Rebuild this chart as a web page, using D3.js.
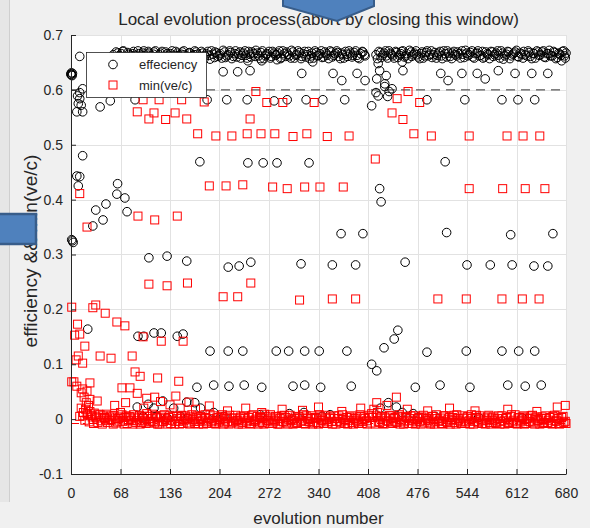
<!DOCTYPE html>
<html>
<head>
<meta charset="utf-8">
<script src="https://cdn.jsdelivr.net/npm/d3@7"></script>
<style>
  body { margin: 0; background: #f0f0f0; }
  svg { display: block; font-family: "Liberation Sans", Arial, sans-serif; }
</style>
</head>
<body>
<script>
// tick labels
const xTicks = [0, 68, 136, 204, 272, 340, 408, 476, 544, 612, 680];
const yTicks = [-0.1, 0, 0.1, 0.2, 0.3, 0.4, 0.5, 0.6, 0.7];
const legendLabels = ["effeciency", "min(ve/c)"];

// efficiency: the dense band near 0.66
const effBand = [
  [58,.664],[62,.669],[65,.660],[69,.666],[72,.671],[76,.658],[79,.665],[83,.662],[86,.670],[90,.657],
  [93,.666],[97,.663],[100,.671],[104,.659],[107,.667],[111,.662],[114,.669],[118,.656],[121,.664],[125,.670],
  [128,.661],[132,.666],[135,.658],[139,.671],[142,.663],[146,.667],[149,.660],[153,.669],[156,.664],[160,.657],
  [163,.668],[167,.662],[170,.671],[174,.665],[177,.659],[181,.667],[184,.662],[188,.670],[191,.656],[195,.665],
  [198,.669],[202,.661],[205,.666],[209,.672],[212,.659],[216,.664],[219,.668],[223,.661],[226,.671],[230,.665],
  [233,.658],[237,.667],[240,.663],[244,.670],[247,.660],[251,.666],[254,.672],[258,.662],[261,.668],[265,.657],
  [268,.665],[272,.670],[275,.661],[279,.667],[282,.664],[286,.671],[289,.659],[293,.666],[296,.669],[300,.662],
  [303,.672],[307,.658],[310,.665],[314,.668],[317,.661],[321,.670],[324,.664],[328,.657],[331,.667],[335,.671],
  [338,.662],[342,.666],[345,.659],[349,.669],[352,.663],[356,.671],[359,.660],[363,.666],[366,.668],[370,.657],
  [373,.664],[377,.670],[380,.661],[384,.667],[387,.663],[391,.671],[394,.659],[398,.666],[401,.669],[404,.662],
  [419,.664],[423,.670],[426,.659],[430,.667],[433,.662],[437,.671],[440,.665],[444,.658],[447,.668],[451,.663],
  [454,.670],[458,.660],[461,.666],[465,.672],[468,.661],[472,.667],[475,.664],[479,.657],[482,.669],[486,.662],
  [489,.671],[493,.665],[496,.659],[500,.668],[503,.663],[507,.670],[510,.657],[514,.666],[517,.671],[521,.661],
  [524,.667],[528,.664],[531,.669],[535,.658],[538,.665],[542,.672],[545,.662],[549,.668],[552,.660],[556,.666],
  [559,.671],[563,.663],[566,.658],[570,.669],[573,.664],[577,.670],[580,.661],[584,.667],[587,.663],[591,.671],
  [594,.656],[598,.665],[601,.669],[605,.662],[608,.667],[612,.672],[615,.660],[619,.665],[622,.670],[626,.662],
  [629,.668],[633,.657],[636,.666],[640,.671],[643,.663],[647,.669],[650,.660],[654,.666],[657,.672],[661,.662],
  [664,.668],[668,.659],[671,.665],[675,.670],[678,.662],[680,.667]
];
const effBandB = [
  [60,.658],[64,.667],[67,.662],[71,.670],[74,.660],[78,.668],[81,.657],[85,.666],[88,.663],[92,.671],
  [95,.659],[99,.667],[102,.662],[106,.670],[109,.657],[113,.665],[116,.671],[120,.661],[123,.667],[127,.658],
  [130,.669],[134,.663],[137,.666],[141,.657],[144,.670],[148,.662],[151,.665],[155,.671],[158,.660],[162,.667],
  [165,.658],[169,.664],[172,.669],[176,.661],[179,.670],[183,.657],[186,.666],[190,.663],[193,.671],[197,.659],
  [200,.667],[204,.663],[207,.658],[211,.669],[214,.662],[218,.671],[221,.657],[225,.666],[228,.660],[232,.669],
  [235,.663],[239,.671],[242,.658],[246,.665],[249,.669],[253,.661],[256,.667],[260,.657],[263,.671],[267,.662],
  [270,.666],[274,.658],[277,.670],[281,.663],[284,.667],[288,.657],[291,.671],[295,.661],[298,.665],[302,.658],
  [305,.669],[309,.663],[312,.671],[316,.657],[319,.666],[323,.660],[326,.670],[330,.662],[333,.658],[337,.668],
  [340,.663],[344,.671],[347,.660],[351,.666],[354,.657],[358,.669],[361,.663],[365,.671],[368,.661],[372,.667],
  [375,.658],[379,.665],[382,.671],[386,.660],[389,.668],[393,.663],[396,.657],[400,.670],[403,.664],
  [421,.657],[425,.668],[428,.663],[432,.671],[435,.658],[439,.667],[442,.662],[446,.670],[449,.659],[453,.666],
  [456,.671],[460,.662],[463,.657],[467,.669],[470,.664],[474,.671],[477,.660],[481,.666],[484,.658],[488,.668],
  [491,.662],[495,.671],[498,.664],[502,.658],[505,.667],[509,.662],[512,.671],[516,.660],[519,.667],[523,.657],
  [526,.670],[530,.662],[533,.666],[537,.671],[540,.659],[544,.667],[547,.664],[551,.671],[554,.658],[558,.667],
  [561,.662],[565,.670],[568,.660],[572,.666],[575,.657],[579,.669],[582,.664],[586,.671],[589,.658],[593,.667],
  [596,.662],[600,.670],[603,.657],[607,.665],[610,.669],[614,.661],[617,.667],[621,.658],[624,.664],[628,.671],
  [631,.661],[635,.667],[638,.658],[642,.669],[645,.664],[649,.671],[652,.659],[656,.666],[659,.662],[663,.670],
  [666,.657],[670,.667],[673,.663],[677,.671],[679,.658]
];

// efficiency: points away from the band
const effScatter = [
  [0,.629],[1,.627],[2,.630],[0,.628],[0.5,.631],[1.5,.626],[12,.661],
  [9,.589],[12,.584],[8,.56],[16,.56],[12,.595],[16,.602],[10,.575],[14,.572],[40,.569],[54,.58],
  [16,.48],[8,.443],[12,.442],[10,.425],
  [1,.327],[3,.322],[2,.325],
  [30,.352],[34,.381],[44,.363],[48,.392],[64,.429],[63,.41],[74,.403],[77,.378],
  [107,.294],[132,.297],[159,.288],
  [177,.469],[243,.467],[264,.467],[283,.467],[327,.467],[514,.469],
  [216,.277],[231,.279],[247,.286],[316,.283],[359,.281],[391,.281],
  [371,.338],[401,.338],[424,.42],[426,.396],
  [459,.286],[544,.281],[576,.281],[606,.281],[636,.279],[655,.279],
  [516,.34],[604,.336],[662,.338],
  [88,.582],[187,.582],[214,.582],[242,.582],[279,.58],[297,.582],[323,.582],[346,.582],[376,.582],
  [489,.582],[541,.582],[592,.582],[614,.582],[637,.582],
  [413,.571],[419,.595],[437,.597],[422,.589],[435,.588],[441,.602],[431,.606],
  [209,.633],[229,.633],[246,.635],[317,.63],[360,.63],[372,.617],[393,.63],[404,.617],[424,.635],
  [433,.626],[420,.62],[431,.611],[422,.648],[455,.651],[456,.635],[508,.63],[518,.617],[537,.63],
  [558,.63],[569,.62],[587,.635],[610,.63],[633,.63],[655,.63],[674,.653],
  [243,.653],[262,.653],[283,.655],[332,.651],
  [23,.164],[92,.151],[100,.151],[114,.157],[124,.157],[146,.151],[154,.155],[449,.162],[444,.146],[430,.13],
  [191,.124],[216,.124],[236,.124],[282,.124],[299,.124],[321,.124],[341,.124],[379,.124],[489,.122],
  [543,.124],[592,.124],[615,.124],[637,.124],
  [173,.058],[196,.062],[217,.06],[238,.062],[262,.058],[305,.06],[321,.062],[343,.058],[385,.06],
  [473,.058],[507,.062],[548,.058],[600,.062],[624,.06],[646,.062],
  [413,.1],[420,.088],
  [91,.022],[106,.027],[114,.02],[126,.033],[141,.02],[159,.031],[99,.004],[118,.005],[132,.002],[150,.005],
  [170,.03],[178,.02],[196,.012],[210,.005],[260,.008],[300,.01],[320,.012],[345,.005],[356,.008],
  [425,.02],[436,.03],[447,.022],[455,.012],[470,.01],[500,.005],[560,.003],[620,.002]
];

// min(ve/c): the dense band near 0
const minBand = [
  [14,.02],[17,.012],[20,.018],[23,.008],[26,.014],[29,.004],[32,.011],[35,.002],[38,.009],[41,-.003],
  [44,.006],[47,.001],[50,-.006],[53,.004],[56,-.002],[59,.007],[62,-.007],[65,.001],[68,.012],[71,-.004],
  [74,.003],[77,-.008],[80,.005],[83,-.002],[86,.008],[89,-.006],[92,.002],[95,-.009],[98,.004],[101,-.003],
  [104,.010],[107,-.007],[110,.001],[113,-.004],[116,.006],[119,-.009],[122,.002],[125,-.005],[128,.008],[131,-.002],
  [134,.003],[137,-.008],[140,.005],[143,-.004],[146,.001],[149,-.009],[152,.007],[155,-.003],[158,.002],[161,-.007],
  [164,.004],[167,-.001],[170,-.008],[173,.006],[176,-.004],[179,.001],[182,-.009],[185,.003],[188,-.005],[191,.008],
  [194,-.002],[197,-.008],[200,.002],[203,-.005],[206,.005],[209,-.009],[212,.001],[215,-.004],[218,.007],[221,-.007],
  [224,.002],[227,-.003],[230,-.009],[233,.004],[236,-.006],[239,.001],[242,-.002],[245,-.008],[248,.006],[251,-.004],
  [254,.000],[257,-.009],[260,.003],[263,-.006],[266,.009],[269,-.002],[272,-.008],[275,.002],[278,-.005],[281,.005],
  [284,-.009],[287,.001],[290,-.004],[293,.007],[296,-.007],[299,.000],[302,-.003],[305,-.009],[308,.004],[311,-.006],
  [314,.002],[317,-.002],[320,-.008],[323,.006],[326,-.004],[329,.001],[332,-.009],[335,.003],[338,-.006],[341,.008],
  [344,-.002],[347,-.008],[350,.002],[353,-.005],[356,.004],[359,-.009],[362,.001],[365,-.004],[368,.006],[371,-.007],
  [374,.002],[377,-.003],[380,-.009],[383,.004],[386,-.006],[389,.001],[392,-.002],[395,-.008],[398,.005],[401,-.004],
  [404,.001],[407,-.009],[410,.003],[413,.010],[416,.018],[419,.006],[422,-.004],[425,.002],[428,-.008],[431,.004],
  [434,-.003],[437,.007],[440,-.007],[443,.001],[446,-.004],[449,.005],[452,-.009],[455,.002],[458,-.005],[461,.003],
  [464,-.008],[467,.006],[470,-.002],[473,-.009],[476,.001],[479,-.004],[482,.004],[485,-.007],[488,.002],[491,-.003],
  [494,-.009],[497,.005],[500,-.005],[503,.001],[506,-.002],[509,-.008],[512,.006],[515,-.004],[518,.000],[521,-.009],
  [524,.003],[527,-.006],[530,.008],[533,-.002],[536,-.008],[539,.002],[542,-.005],[545,.005],[548,-.009],[551,.001],
  [554,-.004],[557,.007],[560,-.007],[563,.000],[566,-.003],[569,-.009],[572,.004],[575,-.006],[578,.002],[581,-.002],
  [584,-.008],[587,.006],[590,-.004],[593,.001],[596,-.009],[599,.003],[602,-.006],[605,.008],[608,-.002],[611,-.008],
  [614,.002],[617,-.005],[620,.004],[623,-.009],[626,.001],[629,-.004],[632,.006],[635,-.007],[638,.002],[641,-.003],
  [644,-.009],[647,.004],[650,-.006],[653,.001],[656,-.002],[659,-.008],[662,.005],[665,-.004],[668,.001],[671,-.009],
  [674,.003],[677,-.006],[680,-.008],
  [60,.025],[75,.03],[100,.02],[123,.032],[136,.026],[150,.02],[171,.018],[190,.024],[215,.015],[240,.02],
  [262,.012],[290,.018],[318,.016],[340,.022],[372,.014],[398,.02],[420,.03],[434,.025],[447,.04],[462,.018],
  [490,.015],[520,.02],[555,.015],[600,.018],[640,.014],[668,.022],[679,.025]
];
const minBandB = [
  [16,.006],[19,-.002],[22,.01],[25,-.005],[28,.007],[31,-.008],[34,.004],[37,-.006],[40,.008],[43,-.009],
  [46,.003],[49,.009],[52,-.002],[55,.006],[58,-.009],[61,.002],[64,-.005],[67,.004],[70,.008],[73,-.009],
  [76,.006],[79,-.003],[82,.002],[85,-.009],[88,.004],[91,-.003],[94,.007],[97,-.006],[100,.001],[103,-.008],
  [106,.005],[109,-.004],[112,.009],[115,-.007],[118,.003],[121,-.009],[124,.006],[127,-.004],[130,.002],[133,-.009],
  [136,.007],[139,-.002],[142,-.009],[145,.005],[148,-.004],[151,.002],[154,-.008],[157,.006],[160,.001],[163,-.009],
  [166,.008],[169,-.004],[172,.002],[175,-.009],[178,.005],[181,-.002],[184,.008],[187,-.008],[190,.001],[193,-.005],
  [196,.006],[199,-.009],[202,.003],[205,-.002],[208,.008],[211,-.007],[214,.004],[217,-.009],[220,.002],[223,-.005],
  [226,.007],[229,-.003],[232,.002],[235,-.009],[238,.006],[241,-.005],[244,.003],[247,-.009],[250,.008],[253,-.003],
  [256,.005],[259,-.007],[262,.001],[265,-.009],[268,.005],[271,-.003],[274,.008],[277,-.008],[280,-.002],[283,.004],
  [286,-.009],[289,.006],[292,-.005],[295,.003],[298,-.009],[301,.007],[304,-.002],[307,.001],[310,-.008],[313,.005],
  [316,-.004],[319,.008],[322,-.009],[325,.002],[328,-.005],[331,.006],[334,-.007],[337,.001],[340,-.009],[343,.004],
  [346,-.002],[349,.007],[352,-.008],[355,.002],[358,-.004],[361,.006],[364,-.009],[367,.001],[370,-.005],[373,.008],
  [376,-.008],[379,.003],[382,-.002],[385,.006],[388,-.009],[391,.002],[394,-.005],[397,.008],[400,-.008],[403,.004],
  [406,-.003],[409,.007],[412,-.007],[415,.003],[418,-.009],[421,.012],[424,-.006],[427,.005],[430,-.009],[433,.002],
  [436,-.004],[439,.006],[442,-.008],[445,.003],[448,-.006],[451,.008],[454,-.002],[457,-.009],[460,.005],[463,-.003],
  [466,.001],[469,-.008],[472,.006],[475,-.005],[478,.003],[481,-.009],[484,.007],[487,-.002],[490,.001],[493,-.007],
  [496,.005],[499,-.009],[502,.008],[505,-.004],[508,.002],[511,-.009],[514,.006],[517,-.006],[520,.003],[523,-.002],
  [526,.007],[529,-.009],[532,.001],[535,-.005],[538,.006],[541,-.008],[544,.002],[547,-.003],[550,.008],[553,-.009],
  [556,.003],[559,-.005],[562,.006],[565,-.008],[568,.002],[571,-.002],[574,.007],[577,-.009],[580,.004],[583,-.006],
  [586,.001],[589,-.009],[592,.006],[595,-.003],[598,.002],[601,-.008],[604,.005],[607,-.005],[610,.008],[613,-.009],
  [616,.003],[619,-.002],[622,.006],[625,-.008],[628,.002],[631,-.005],[634,.007],[637,-.009],[640,.004],[643,-.003],
  [646,.001],[649,-.008],[652,.006],[655,-.006],[658,.003],[661,-.009],[664,.007],[667,-.003],[670,.002],[673,-.008],
  [676,.005],[679,-.004]
];

// min(ve/c): points away from the band
const minScatter = [
  [254,.597],[183,.578],[159,.547],[246,.547],[174,.52],[199,.516],[221,.516],[242,.52],[261,.52],[280,.52],
  [305,.515],[324,.52],[269,.577],[291,.577],
  [334,.577],[448,.584],[463,.597],[479,.577],[441,.558],[456,.546],[352,.515],[382,.516],[471,.52],[495,.516],[418,.474],
  [547,.516],[599,.516],[621,.516],[644,.516],
  [99,.582],[121,.582],[152,.582],[91,.56],[114,.558],[107,.547],[130,.546],[143,.558],
  [190,.425],[213,.425],[236,.427],[277,.423],[297,.42],[321,.423],[342,.423],[374,.423],[547,.42],[593,.42],[624,.42],[651,.42],
  [12,.411],[22,.35],[92,.37],[115,.363],[146,.37],
  [107,.246],[132,.243],[160,.248],[247,.248],
  [209,.223],[229,.223],[314,.217],[359,.219],[391,.219],[504,.219],[543,.219],[592,.219],[620,.219],[643,.219],
  [1,.204],[30,.203],[34,.208],[47,.193],[63,.177],[74,.17],
  [9,.173],[5,.153],[12,.155],[19,.133],[10,.115],[7,.108],[16,.102],[40,.115],[55,.111],[84,.115],[99,.15],[124,.142],[154,.142],
  [88,.086],[95,.078],[119,.075],[148,.069],
  [1,.068],[4,.068],[26,.066],[16,.055],[22,.051],[70,.057],[81,.057],[91,.047],[26,.036],[36,.033],
  [104,.038],[115,.04],[144,.042],[162,.031],[12,.005],
  [8,.06],[14,.048],[18,.04],[21,.03],[24,.025]
];

const effLevel = 0.6;    // black dashed reference
const minLevel = -0.008; // red dash-dot reference

const W = 599, H = 528;
const plot = {left: 71, right: 566, top: 35, bottom: 474};
const ink = "#262626";

const svg = d3.select("body").append("svg")
  .attr("width", W)
  .attr("height", H);

// figure window background
svg.append("rect").attr("width", W).attr("height", H).attr("fill", "#f0f0f0");
svg.append("rect").attr("x", 0).attr("y", 0).attr("width", 9).attr("height", 502).attr("fill", "#e6e6e6");
svg.append("line").attr("x1", 9.5).attr("x2", 9.5).attr("y1", 0).attr("y2", 502).attr("stroke", "#cfcfcf");
svg.append("rect").attr("x", 590).attr("y", 0).attr("width", 9).attr("height", H).attr("fill", "#ffffff");

const x = d3.scaleLinear().domain([0, 680]).range([plot.left, plot.right]);
const y = d3.scaleLinear().domain([-0.1, 0.7]).range([plot.bottom, plot.top]);

// axes area
svg.append("rect")
  .attr("x", plot.left).attr("y", plot.top)
  .attr("width", plot.right - plot.left).attr("height", plot.bottom - plot.top)
  .attr("fill", "#ffffff");

// grid
const grid = svg.append("g").attr("stroke", "#e2e2e2").attr("stroke-width", 1);
grid.selectAll(".gx").data(xTicks).enter().append("line")
  .attr("x1", d => Math.round(x(d)) + 0.5).attr("x2", d => Math.round(x(d)) + 0.5)
  .attr("y1", plot.top).attr("y2", plot.bottom);
grid.selectAll(".gy").data(yTicks).enter().append("line")
  .attr("y1", d => Math.round(y(d)) + 0.5).attr("y2", d => Math.round(y(d)) + 0.5)
  .attr("x1", plot.left).attr("x2", plot.right);

// reference lines
svg.append("line")
  .attr("x1", plot.left).attr("x2", plot.right)
  .attr("y1", y(effLevel)).attr("y2", y(effLevel))
  .attr("stroke", "#333").attr("stroke-dasharray", "9,6");
svg.append("line")
  .attr("x1", plot.left).attr("x2", plot.right)
  .attr("y1", y(minLevel)).attr("y2", y(minLevel))
  .attr("stroke", "#ff0000").attr("stroke-dasharray", "8,4,2,4");

// efficiency circles
const effAll = effBand.concat(effBandB, effScatter);
svg.append("g").selectAll("circle")
  .data(effAll).enter().append("circle")
    .attr("cx", d => x(d[0]))
    .attr("cy", d => y(d[1]))
    .attr("r", 4.3)
    .attr("fill", "none")
    .attr("stroke", "#000")
    .attr("stroke-width", 1);

// min(ve/c) squares
const minAll = minBand.concat(minBandB, minScatter);
svg.append("g").selectAll("rect")
  .data(minAll).enter().append("rect")
    .attr("x", d => x(d[0]) - 4)
    .attr("y", d => y(d[1]) - 4)
    .attr("width", 8)
    .attr("height", 8)
    .attr("fill", "none")
    .attr("stroke", "#ff0000")
    .attr("stroke-width", 1);

// x axis
const xAxis = svg.append("g")
  .attr("transform", "translate(0," + plot.bottom + ")")
  .call(d3.axisBottom(x).tickValues(xTicks).tickSizeInner(-5).tickSizeOuter(0).tickPadding(14));

// y axis
const yAxis = svg.append("g")
  .attr("transform", "translate(" + plot.left + ",0)")
  .call(d3.axisLeft(y).tickValues(yTicks).tickSizeInner(-5).tickSizeOuter(0).tickPadding(8));

[xAxis, yAxis].forEach(g => {
  g.select(".domain").attr("stroke", ink);
  g.selectAll(".tick line").attr("stroke", ink);
  g.selectAll(".tick text")
    .attr("fill", ink)
    .attr("font-size", "14px")
    .attr("font-family", "Liberation Sans, Arial, sans-serif");
});
yAxis.selectAll(".tick text").text(d => d === 0 ? "0" : String(d));

// title
svg.append("text")
  .attr("x", (plot.left + plot.right) / 2)
  .attr("y", 25)
  .attr("text-anchor", "middle")
  .attr("font-size", "17px")
  .attr("fill", ink)
  .text("Local evolution process(abort by closing this window)");

// x label
svg.append("text")
  .attr("x", (plot.left + plot.right) / 2)
  .attr("y", 524)
  .attr("text-anchor", "middle")
  .attr("font-size", "17px")
  .attr("fill", ink)
  .text("evolution number");

// y label
svg.append("text")
  .attr("transform", "translate(37,251) rotate(-90)")
  .attr("text-anchor", "middle")
  .attr("font-size", "19px")
  .attr("fill", ink)
  .text("efficiency && min(ve/c)");

// legend
const lg = svg.append("g");
lg.append("rect")
  .attr("x", 86.5).attr("y", 52.5).attr("width", 120).attr("height", 45)
  .attr("fill", "#fff").attr("stroke", ink).attr("stroke-width", 0.8);
lg.append("circle")
  .attr("cx", 113).attr("cy", 64.5).attr("r", 4.3)
  .attr("fill", "none").attr("stroke", "#000");
lg.append("rect")
  .attr("x", 109).attr("y", 81).attr("width", 8).attr("height", 8)
  .attr("fill", "none").attr("stroke", "#ff0000");
lg.selectAll("text").data(legendLabels).enter().append("text")
  .attr("x", 139)
  .attr("y", (d, i) => 64.5 + i * 20.5)
  .attr("dy", "0.35em")
  .attr("font-size", "13px")
  .attr("fill", ink)
  .text(d => d);

// blue shapes pasted over the screenshot
svg.append("path")
  .attr("d", "M283,-2 L374,-2 L374,6 L337,21 L283,6 Z")
  .attr("fill", "#4f81bd").attr("stroke", "#385d8a").attr("stroke-width", 2);
svg.append("rect")
  .attr("x", -3).attr("y", 214).attr("width", 39).attr("height", 30)
  .attr("fill", "#4f81bd").attr("stroke", "#385d8a").attr("stroke-width", 2.5);
</script>
</body>
</html>
